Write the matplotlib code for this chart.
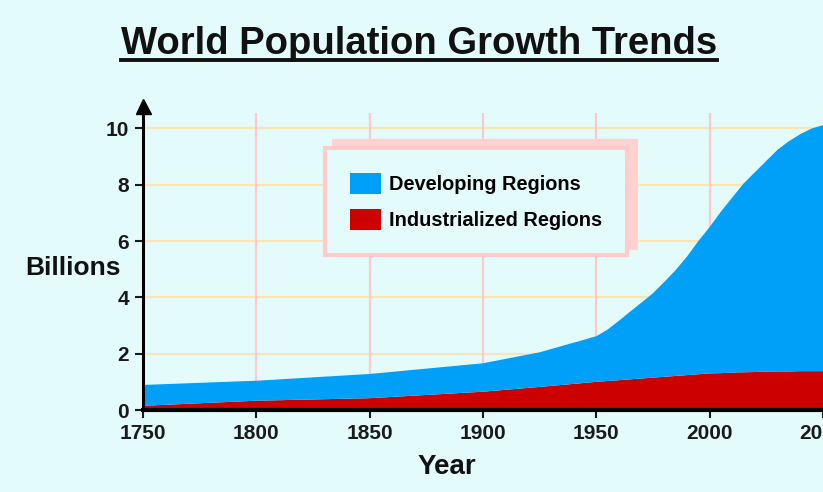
import matplotlib
matplotlib.use('Agg')
import matplotlib.pyplot as plt
from matplotlib.lines import Line2D
import numpy as np

plt.rcParams['font.family'] = ['Liberation Sans', 'DejaVu Sans']
plt.rcParams['font.weight'] = 'bold'

years = [1750, 1800, 1850, 1900, 1925, 1950, 1955, 1960, 1965, 1970, 1975,
         1980, 1985, 1990, 1995, 2000, 2005, 2010, 2015, 2020, 2025, 2030,
         2035, 2040, 2045, 2050]
industrialized = [0.15, 0.33, 0.42, 0.65, 0.82, 1.0, 1.03, 1.06, 1.09, 1.12,
                  1.15, 1.18, 1.21, 1.24, 1.27, 1.3, 1.31, 1.33, 1.34, 1.35,
                  1.36, 1.37, 1.37, 1.38, 1.38, 1.38]
world_total = [0.89, 1.04, 1.28, 1.66, 2.05, 2.62, 2.86, 3.17, 3.5, 3.82,
               4.15, 4.55, 4.97, 5.45, 6.0, 6.5, 7.05, 7.55, 8.05, 8.45,
               8.85, 9.25, 9.55, 9.8, 10.0, 10.12]
developing = list(np.array(world_total) - np.array(industrialized))

x_ticks = [1750, 1800, 1850, 1900, 1950, 2000, 2050]
y_ticks = [0, 2, 4, 6, 8, 10]

bg = '#e4fbfb'
blue = '#00a0f8'
red = '#cc0000'

fig = plt.figure(figsize=(8.23, 4.92), dpi=100, facecolor=bg)
ax = fig.add_axes([143 / 823, 82 / 492, 680 / 823, 297 / 492])
ax.set_facecolor(bg)
ax.set_xlim(1750, 2050)
ax.set_ylim(0, 10.55)

# grid behind the areas
for yv in y_ticks[1:]:
    ax.axhline(yv, xmin=0.006, color='#fbe5b8', lw=1.6, zorder=1)
ax.vlines(x_ticks[1:-1], 0, 10.55, color='#fccaca', lw=1.6, zorder=1)

ax.stackplot(years, industrialized, developing, colors=[red, blue],
             labels=['Industrialized Regions', 'Developing Regions'], zorder=2)

for s in ['top', 'right']:
    ax.spines[s].set_visible(False)
ax.spines['left'].set_linewidth(2.2)
ax.spines['bottom'].set_linewidth(3)
ax.spines['left'].set_zorder(4)
ax.spines['bottom'].set_zorder(4)

ax.set_xticks(x_ticks)
ax.set_yticks(y_ticks)
ax.tick_params(axis='both', labelsize=15, colors='#1a1a1a', length=6, width=1.5, pad=4)
for lab in ax.get_xticklabels() + ax.get_yticklabels():
    lab.set_fontweight('bold')

# arrow head on y axis
ax.plot([0], [1.025], marker='^', markersize=10.8, color='black',
        transform=ax.transAxes, clip_on=False, zorder=5)

handles, labels = ax.get_legend_handles_labels()
leg = ax.legend(handles[::-1], labels[::-1], loc='upper left',
                bbox_to_anchor=(0.268, 0.882), borderaxespad=0,
                prop={'weight': 'bold', 'size': 14.4},
                facecolor=bg, edgecolor='#ffcccc', framealpha=1,
                fancybox=False, borderpad=1.25, labelspacing=0.75,
                handlelength=1.55, handleheight=1.2, handletextpad=0.4,
                shadow={'color': '#ffd2d2', 'alpha': 1, 'ox': 6, 'oy': 5})
leg.get_frame().set_linewidth(3)
leg.set_zorder(6)

fig.text(25 / 823, 1 - 268 / 492, 'Billions', ha='left', va='center',
         fontsize=19, fontweight='bold', color='#111111')
fig.text(447 / 823, 1 - 467 / 492, 'Year', ha='center', va='center',
         fontsize=20, fontweight='bold', color='#111111')

title = fig.text(419 / 823, 1 - 54 / 492, 'World Population Growth Trends',
                 ha='center', va='baseline', fontsize=27.5, fontweight='bold',
                 color='#111111')

# underline the title
fig.canvas.draw()
bb = title.get_window_extent()
uy = 1 - 60 / 492
fig.add_artist(Line2D([bb.x0 / 823, bb.x1 / 823], [uy, uy], color='#111111',
                      lw=2.8, transform=fig.transFigure))

fig.savefig('out.png', dpi=100, facecolor=bg)
